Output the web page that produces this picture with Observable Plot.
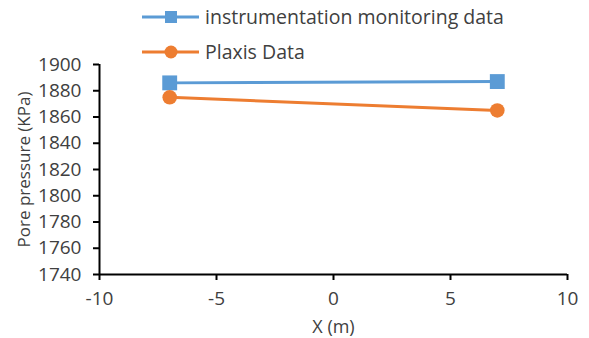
<!DOCTYPE html>
<html><head><meta charset="utf-8">
<script src="https://cdn.jsdelivr.net/npm/d3@7"></script>
<script src="https://cdn.jsdelivr.net/npm/@observablehq/plot@0.6"></script>
<style>
body{margin:0;background:#fff;}
#wrap{position:relative;width:589px;height:338px;font-family:"Open Sans",sans-serif;}
.leg{position:absolute;left:142px;display:flex;align-items:center;font-size:19.5px;color:#404040;white-space:nowrap;}
.leg svg{margin-right:6px;}
</style></head>
<body><div id="wrap"></div>
<script>
const xValues = [-7, 7];
const instrumentation = [1886, 1887];
const plaxis = [1875, 1865];
const seriesNames = ["instrumentation monitoring data", "Plaxis Data"];
const seriesColors = ["#5B9BD5", "#ED7D31"];
const xTicks = [-10, -5, 0, 5, 10];
const yTicks = [1740, 1760, 1780, 1800, 1820, 1840, 1860, 1880, 1900];
const xLabel = "X (m)";
const yLabel = "Pore pressure (KPa)";

const rows = [];
xValues.forEach((x, i) => {
  rows.push({series: seriesNames[0], x, y: instrumentation[i]});
  rows.push({series: seriesNames[1], x, y: plaxis[i]});
});
const s0 = rows.filter(d => d.series === seriesNames[0]);
const s1 = rows.filter(d => d.series === seriesNames[1]);
const fmt = d => String(d).replace("\u2212", "-");

const chart = Plot.plot({
  width: 589, height: 338,
  marginLeft: 99, marginRight: 22, marginTop: 64, marginBottom: 64,
  style: {fontFamily: "'Open Sans', sans-serif", fontSize: "19px", color: "#404040", background: "#fff"},
  x: {domain: [-10, 10]},
  y: {domain: [1740, 1900]},
  marks: [
    Plot.axisX({ticks: xTicks, tickFormat: fmt, tickSize: 6, tickPadding: 11, strokeWidth: 2, stroke: "#000", label: null, fontSize: 19, fill: "#404040"}),
    Plot.axisY({ticks: yTicks, tickFormat: fmt, tickSize: 6, tickPadding: 12, strokeWidth: 2, stroke: "#000", label: null, fontSize: 19, fill: "#404040"}),
    Plot.ruleY([1740], {stroke: "#000", strokeWidth: 2}),
    Plot.ruleX([-10], {stroke: "#000", strokeWidth: 2}),
    Plot.line(s0, {x: "x", y: "y", stroke: seriesColors[0], strokeWidth: 3}),
    Plot.line(s1, {x: "x", y: "y", stroke: seriesColors[1], strokeWidth: 3}),
    Plot.dot(s0, {x: "x", y: "y", symbol: "square", r: 8.4, fill: seriesColors[0], stroke: "none"}),
    Plot.dot(s1, {x: "x", y: "y", symbol: "circle", r: 7.3, fill: seriesColors[1], stroke: "none"}),
    Plot.text([xLabel], {frameAnchor: "bottom", dy: 53, text: d => d, fontSize: 18, fill: "#404040", lineAnchor: "middle", textAnchor: "middle"}),
    Plot.text([yLabel], {frameAnchor: "left", dx: -75, rotate: -90, text: d => d, fontSize: 17, fill: "#404040", lineAnchor: "middle", textAnchor: "middle"})
  ]
});
const wrap = document.getElementById("wrap");
wrap.appendChild(chart);

const legTops = [16, 51];
seriesNames.forEach((name, i) => {
  const div = document.createElement("div");
  div.className = "leg";
  div.style.top = (legTops[i] - 13) + "px";
  const marker = i === 0
    ? `<rect x="23" y="7" width="12" height="12" fill="${seriesColors[i]}"/>`
    : `<circle cx="29" cy="13" r="6.5" fill="${seriesColors[i]}"/>`;
  div.innerHTML = `<svg width="57" height="26"><line x1="0" x2="57" y1="13" y2="13" stroke="${seriesColors[i]}" stroke-width="3"/>${marker}</svg><span>${name}</span>`;
  wrap.appendChild(div);
});
</script></body></html>
